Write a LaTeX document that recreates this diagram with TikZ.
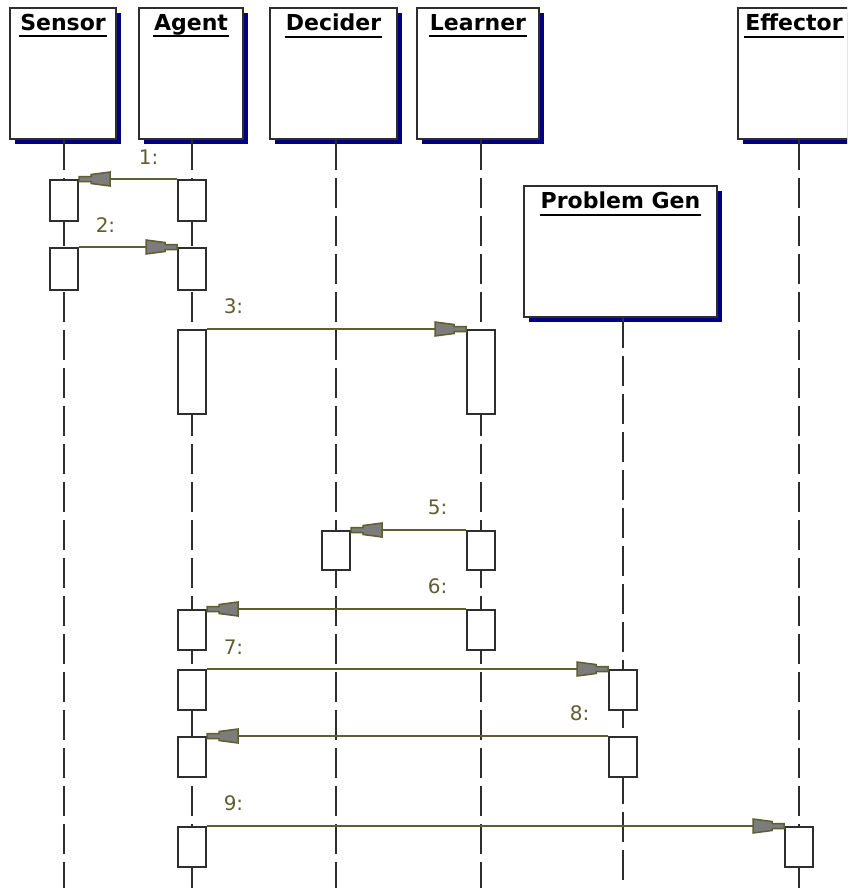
\documentclass[tikz,border=0pt]{standalone}
\usepackage{fontspec}
\setmainfont{DejaVu Sans}
\usetikzlibrary{shadows}
\definecolor{msgolive}{HTML}{5E5E30}
\definecolor{headgray}{HTML}{7C7C7C}
\definecolor{shadowblue}{HTML}{000080}
\definecolor{linegray}{HTML}{2E2E2E}
\pgfdeclarearrow{
  name = UMLhead,
  setup code = {
    \pgfarrowssettipend{0pt}
    \pgfarrowssetlineend{-10pt}
    \pgfarrowssetvisualbackend{-31pt}
    \pgfarrowssetbackend{-31pt}
    \pgfarrowshullpoint{0pt}{2.5pt}
    \pgfarrowshullpoint{0pt}{-2.5pt}
    \pgfarrowshullpoint{-31pt}{7pt}
    \pgfarrowshullpoint{-31pt}{-7pt}
  },
  drawing code = {
    \pgfpathmoveto{\pgfqpoint{0pt}{2.5pt}}
    \pgfpathlineto{\pgfqpoint{-12pt}{2.5pt}}
    \pgfpathlineto{\pgfqpoint{-12pt}{4.5pt}}
    \pgfpathlineto{\pgfqpoint{-31pt}{7pt}}
    \pgfpathlineto{\pgfqpoint{-31pt}{-7pt}}
    \pgfpathlineto{\pgfqpoint{-12pt}{-4.5pt}}
    \pgfpathlineto{\pgfqpoint{-12pt}{-2.5pt}}
    \pgfpathlineto{\pgfqpoint{0pt}{-2.5pt}}
    \pgfpathclose
    \pgfsetfillcolor{headgray}
    \pgfusepathqfillstroke
  }
}
\begin{document}
\begin{tikzpicture}[x=1pt, y=-1pt,
  objbox/.style={draw=linegray, line width=2pt, fill=white, minimum width=#1,
    minimum height=131pt, inner sep=0pt,
    drop shadow={shadow xshift=5pt, shadow yshift=-5pt, fill=shadowblue, opacity=1}},
  objtitle/.style={anchor=north, inner xsep=1pt, inner ysep=0pt, text depth=5.5pt,
    yshift=-7pt, font=\fontsize{22}{26}\selectfont\bfseries},
  lifeline/.style={draw=linegray, line width=2pt, dash pattern=on 30pt off 8pt},
  act/.style={anchor=north, draw=linegray, line width=2pt, fill=white,
    minimum width=28pt, inner sep=0pt},
  msg/.style={draw=msgolive, line width=1.5pt, -UMLhead},
  lbl/.style={at start, inner sep=0pt, text=msgolive, yshift=14pt,
    font=\fontsize{20}{24}\selectfont},
  lblL/.style={lbl, anchor=south east, xshift=-18pt},
  lblR/.style={lbl, anchor=south west, xshift=16pt}]
  \useasboundingbox (0,0) rectangle (847,888);
  \clip (0,0) rectangle (847,888);
  \coordinate (bottom) at (0,888);

  % objects
  \node[objbox=106pt] (sensor) at (63,73.5) {};
  \node[objbox=104pt] (agent) at (191,73.5) {};
  \node[objbox=127pt] (decider) at (333.5,73.5) {};
  \node[objbox=122pt] (learner) at (478,73.5) {};
  \node[objbox=112pt] (effector) at (794,73.5) {};
  \node[objbox=193pt] (probgen) at (620.5,251.5) {};
  \node[objtitle] (sensorT) at (sensor.north) {Sensor};
  \node[objtitle] (agentT) at (agent.north) {Agent};
  \node[objtitle] (deciderT) at (decider.north) {Decider};
  \node[objtitle] (learnerT) at (learner.north) {Learner};
  \node[objtitle] (effectorT) at (effector.north) {Effector};
  \node[objtitle] (probgenT) at (probgen.north) {Problem Gen};
  \foreach \t in {sensorT, agentT, deciderT, learnerT, effectorT, probgenT}
    \draw[line width=2pt] (\t.south west) -- (\t.south east);

  % lifelines
  \foreach \o/\dx in {sensor/1, agent/1, decider/2.5, learner/3, probgen/2.5, effector/5}
    \draw[lifeline] ([xshift=\dx pt]\o.south) -- ([xshift=\dx pt]\o.south |- bottom);

  % activations
  \node[act, minimum height=41pt] (s1) at (64,179) {};
  \node[act, minimum height=42pt] (s2) at (64,247) {};
  \node[act, minimum height=41pt] (a1) at (192,179) {};
  \node[act, minimum height=42pt] (a2) at (192,247) {};
  \node[act, minimum height=84pt] (a3) at (192,329) {};
  \node[act, minimum height=40pt] (a4) at (192,609) {};
  \node[act, minimum height=40pt] (a5) at (192,669) {};
  \node[act, minimum height=40pt] (a6) at (192,736) {};
  \node[act, minimum height=40pt] (a7) at (192,826) {};
  \node[act, minimum height=39pt] (d1) at (336,530) {};
  \node[act, minimum height=84pt] (l1) at (481,329) {};
  \node[act, minimum height=39pt] (l2) at (481,530) {};
  \node[act, minimum height=40pt] (l3) at (481,609) {};
  \node[act, minimum height=40pt] (p1) at (623,669) {};
  \node[act, minimum height=40pt] (p2) at (623,736) {};
  \node[act, minimum height=40pt] (e1) at (799,826) {};

  % messages
  \draw[msg] (a1.north west) -- (s1.north east) node[lblL] (m1) {1:};
  \draw[msg] (s2.north east) -- (a2.north west) node[lblR] (m2) {2:};
  \draw[msg] (a3.north east) -- (l1.north west) node[lblR] (m3) {3:};
  \draw[msg] (l2.north west) -- (d1.north east) node[lblL] (m5) {5:};
  \draw[msg] (l3.north west) -- (a4.north east) node[lblL] (m6) {6:};
  \draw[msg] (a5.north east) -- (p1.north west) node[lblR] (m7) {7:};
  \draw[msg] (p2.north west) -- (a6.north east) node[lblL] (m8) {8:};
  \draw[msg] (a7.north east) -- (e1.north west) node[lblR] (m9) {9:};
\end{tikzpicture}
\end{document}
